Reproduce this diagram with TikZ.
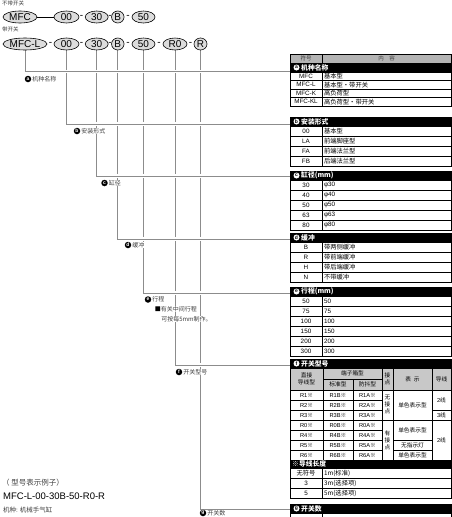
\documentclass[tikz,border=0pt]{standalone}
\usepackage{fontspec}
\setmainfont{Liberation Sans}
\newfontfamily\cjk{Noto Sans CJK SC}
\usetikzlibrary{shapes.geometric}
\definecolor{lg}{HTML}{8C8C8C}
\definecolor{ellf}{HTML}{DCDCDC}
\definecolor{hdf}{HTML}{B4B4B4}
\definecolor{shf}{HTML}{C8C8C8}
\definecolor{lbl}{HTML}{404040}
\newcommand\fs[1]{\fontsize{#1}{#1}\selectfont}
\newcommand\trow[5]{%
  \node[lcell, minimum height=#3pt] (#1L) at (306,{#2+#3/2}) {#4};
  \node[rcell, minimum height=#3pt] (#1R) at (386.5,{#2+#3/2}) {#5};}
\newcommand\shead[5]{%
  \node[shd, minimum height=#3pt] (#1) at (370.5,{#2+#3/2}) {};
  \node[hcirc] (#1c) at (296.5,{#2+#3/2}) {#4};
  \node[htxt] (#1t) at (301,{#2+#3/2}) {#5};}
\newcommand\fcell[7]{\node[fc, fill=#6, minimum width=#4pt, minimum height=#5pt] (#1) at (#2,#3) {#7};}
\begin{document}
\begin{tikzpicture}[x=1pt,y=-1pt,
  ell/.style={ellipse, draw=black, fill=ellf, line width=0.6pt, inner sep=0pt, minimum height=12pt, font=\fs{10}},
  hyph/.style={inner sep=0pt, font=\fs{10}},
  conn/.style={draw=lg, line width=0.9pt},
  hconn/.style={conn, preaction={draw=white, line width=3.5pt}},
  lcirc/.style={circle, fill=black, text=white, inner sep=0pt, minimum size=6.5pt, font=\fs{5}\bfseries},
  labt/.style={anchor=west, fill=white, inner sep=0.6pt, text=lbl, font=\fs{6}\cjk},
  toplab/.style={anchor=west, inner sep=0pt, text=lbl, font=\fs{5.5}\cjk},
  lcell/.style={draw=black, line width=0.5pt, minimum width=32pt, inner sep=0pt, font=\fs{6.3}},
  rcell/.style={draw=black, line width=0.5pt, minimum width=129pt, text width=125pt, align=left, inner xsep=2pt, inner ysep=0pt, font=\fs{6.3}},
  hdc/.style={draw=black, line width=0.5pt, fill=hdf, minimum height=9pt, inner sep=0pt, text=black!75, font=\fs{5.5}\cjk},
  shd/.style={fill=black, draw=black, line width=0.5pt, minimum width=161pt, inner sep=0pt},
  hcirc/.style={circle, fill=white, text=black, inner sep=0pt, minimum size=6pt, font=\fs{5}\bfseries},
  htxt/.style={anchor=west, text=white, inner sep=0pt, font=\fs{6.8}\cjk\bfseries},
  fc/.style={draw=black, line width=0.5pt, inner sep=0pt, align=center, font=\fontsize{5.7}{7}\selectfont}
]
\clip (0,0) rectangle (452,517);
\fill[white] (0,0) rectangle (452,517);

% connector end points at the table edge
\coordinate (ta) at (290,71.5);
\coordinate (tb) at (290,124);
\coordinate (tc) at (290,176);
\coordinate (td) at (290,239);
\coordinate (te) at (290,293);
\coordinate (tf) at (290,365);
\coordinate (tg) at (290,509);

\path (200.5,44) coordinate (pR) (175,44) coordinate (pR0) (143.5,44) coordinate (p50)
      (117.8,44) coordinate (pB) (96.7,44) coordinate (p30) (66.5,44) coordinate (p00) (25,44) coordinate (pL);

\draw[hconn] ([yshift=-6pt]pR) |- (tg);
\draw[hconn] ([yshift=-6pt]pR0) |- (tf);
\draw[hconn] ([yshift=-6pt]p50) |- (te);
\draw[hconn] ([yshift=-6pt]pB) |- (td);
\draw[hconn] ([yshift=-6pt]p30) |- (tc);
\draw[hconn] ([yshift=-6pt]p00) |- (tb);
\draw[hconn] ([yshift=-6pt]pL) |- (ta);

% top row
\node[toplab] (t1) at (2,3.5) {不带开关};
\node[ell, minimum width=34pt] (mfc) at (20,17) {MFC};
\node[ell, minimum width=25pt] (a00) at (66.5,17) {00};
\node[ell, minimum width=23pt] (a30) at (96.7,17) {30};
\node[ell, minimum width=12.5pt] (aB) at (117.8,17) {B};
\node[ell, minimum width=23pt] (a50) at (143.5,17) {50};
\draw[line width=0.6pt] (mfc) -- (a00);
\node[hyph] (ah1) at (81.6,17) {-};
\node[hyph] (ah2) at (110,17) {-};
\node[hyph] (ah3) at (128,17) {-};

% second row
\node[toplab] (t2) at (2,29.5) {带开关};
\node[ell, minimum width=44pt] (mfcl) at (pL) {MFC-L};
\node[ell, minimum width=25pt] (b00) at (p00) {00};
\node[ell, minimum width=23pt] (b30) at (p30) {30};
\node[ell, minimum width=12.5pt] (bB) at (pB) {B};
\node[ell, minimum width=23pt] (b50) at (p50) {50};
\node[ell, minimum width=24pt] (bR0) at (pR0) {R0};
\node[ell, minimum width=13pt] (bR) at (pR) {R};
\node[hyph] (bh1) at (50.5,44) {-};
\node[hyph] (bh2) at (81.6,44) {-};
\node[hyph] (bh3) at (110,44) {-};
\node[hyph] (bh4) at (128,44) {-};
\node[hyph] (bh5) at (159,44) {-};
\node[hyph] (bh6) at (190.5,44) {-};

% left labels
\node[lcirc] (la) at (28,79) {a};   \node[labt] (lat) at (31.5,79) {机种名称};
\node[lcirc] (lb) at (77,131) {b};  \node[labt] (lbt) at (80.5,131) {安装形式};
\node[lcirc] (lc) at (104.5,183) {c}; \node[labt] (lct) at (108,183) {缸径};
\node[lcirc] (ld) at (128,245) {d}; \node[labt] (ldt) at (131.5,245) {缓冲};
\node[lcirc] (le) at (148,299.5) {e}; \node[labt] (let) at (151.5,299.5) {行程};
\node[labt] (le2) at (154,309) {{\color{black}■}有关中间行程};
\node[labt] (le3) at (160.5,319) {可按每5mm制作。};
\node[lcirc] (lf) at (179,372) {f};  \node[labt] (lft) at (182.5,372) {开关型号};
\node[lcirc] (lgc) at (203,513) {g};  \node[labt] (lgt) at (206.5,513) {开关数};

% example
\node[anchor=west, inner sep=0pt, text=lbl, font=\fs{7.5}\cjk] (ex1) at (2,483) {（ 型号表示例子）};
\node[anchor=west, inner sep=0pt, font=\fs{9.5}] (ex2) at (3,496.5) {MFC-L-00-30B-50-R0-R};
\node[anchor=west, inner sep=0pt, text=lbl, font=\fs{6.5}\cjk] (ex3) at (3,510) {机种: 机械手气缸};

% table header
\node[hdc, minimum width=32pt] (h0L) at (306,58.5) {符号};
\node[hdc, minimum width=129pt] (h0R) at (386.5,58.5) {内\quad 容};

% a
\shead{ha}{63}{9}{a}{机种名称}
\trow{ra1}{72}{8.5}{MFC}{\cjk 基本型}
\trow{ra2}{80.5}{8.5}{MFC-L}{\cjk 基本型・带开关}
\trow{ra3}{89}{8.5}{MFC-K}{\cjk 高负荷型}
\trow{ra4}{97.5}{8.5}{MFC-KL}{\cjk 高负荷型・带开关}
% b
\shead{hb}{117}{9}{b}{安装形式}
\trow{rb1}{126}{10}{00}{\cjk 基本型}
\trow{rb2}{136}{10}{LA}{\cjk 前端脚座型}
\trow{rb3}{146}{10}{FA}{\cjk 前端法兰型}
\trow{rb4}{156}{10}{FB}{\cjk 后端法兰型}
% c
\shead{hc}{171}{9}{c}{缸径(mm)}
\trow{rc1}{180}{10}{30}{φ30}
\trow{rc2}{190}{10}{40}{φ40}
\trow{rc3}{200}{10}{50}{φ50}
\trow{rc4}{210}{10}{63}{φ63}
\trow{rc5}{220}{10}{80}{φ80}
% d
\shead{hd}{233}{9}{d}{缓冲}
\trow{rd1}{242}{10}{B}{\cjk 带两侧缓冲}
\trow{rd2}{252}{10}{R}{\cjk 带前端缓冲}
\trow{rd3}{262}{10}{H}{\cjk 带后端缓冲}
\trow{rd4}{272}{10}{N}{\cjk 不带缓冲}
% e
\shead{he}{287}{9}{e}{行程(mm)}
\trow{re1}{296}{10}{50}{50}
\trow{re2}{306}{10}{75}{75}
\trow{re3}{316}{10}{100}{100}
\trow{re4}{326}{10}{150}{150}
\trow{re5}{336}{10}{200}{200}
\trow{re6}{346}{10}{300}{300}
% f
\shead{hf}{359}{9}{f}{开关型号}
\fcell{fs0}{306.5}{379}{33}{22}{shf}{\cjk 直接\\\cjk 导线型}
\fcell{fs1}{352.5}{373.5}{59}{11}{shf}{\cjk 端子箱型}
\fcell{fs2}{338}{384.5}{30}{11}{shf}{\cjk 标准型}
\fcell{fs3}{367.5}{384.5}{29}{11}{shf}{\cjk 防抖型}
\fcell{fs4}{387.5}{379}{11}{22}{shf}{\cjk 接\\\cjk 点}
\fcell{fs5}{412.5}{379}{39}{22}{shf}{\cjk 表\enspace 示}
\fcell{fs6}{441.5}{379}{19}{22}{shf}{\cjk 导线}
\foreach \i/\k in {0/1,1/2,2/3,3/0,4/4,5/5,6/6}{
  \fcell{fa\i}{306.5}{395+10*\i}{33}{10}{white}{R\k{\cjk ※}}
  \fcell{fb\i}{338}{395+10*\i}{30}{10}{white}{R\k B{\cjk ※}}
  \fcell{fcc\i}{367.5}{395+10*\i}{29}{10}{white}{R\k A{\cjk ※}}
}
\fcell{fj1}{387.5}{405}{11}{30}{white}{\cjk 无\\\cjk 接\\\cjk 点}
\fcell{fj2}{387.5}{440}{11}{40}{white}{\cjk 有\\\cjk 接\\\cjk 点}
\fcell{fd1}{412.5}{405}{39}{30}{white}{\cjk 单色表示型}
\fcell{fd2}{412.5}{430}{39}{20}{white}{\cjk 单色表示型}
\fcell{fd3}{412.5}{445}{39}{10}{white}{\cjk 无指示灯}
\fcell{fd4}{412.5}{455}{39}{10}{white}{\cjk 单色表示型}
\fcell{fw1}{441.5}{400}{19}{20}{white}{2{\cjk 线}}
\fcell{fw2}{441.5}{415}{19}{10}{white}{3{\cjk 线}}
\fcell{fw3}{441.5}{440}{19}{40}{white}{2{\cjk 线}}
% lead length
\node[shd, minimum height=8pt] (hx) at (370.5,464) {};
\node[htxt] (hxt) at (292,464) {※导线长度};
\trow{rx1}{468}{10}{\cjk 无符号}{\cjk 1m(标准)}
\trow{rx2}{478}{10}{3}{\cjk 3m(选择项)}
\trow{rx3}{488}{10}{5}{\cjk 5m(选择项)}
% g
\shead{hg}{504}{9}{g}{开关数}
\trow{rg1}{513}{10}{}{}
\end{tikzpicture}
\end{document}
